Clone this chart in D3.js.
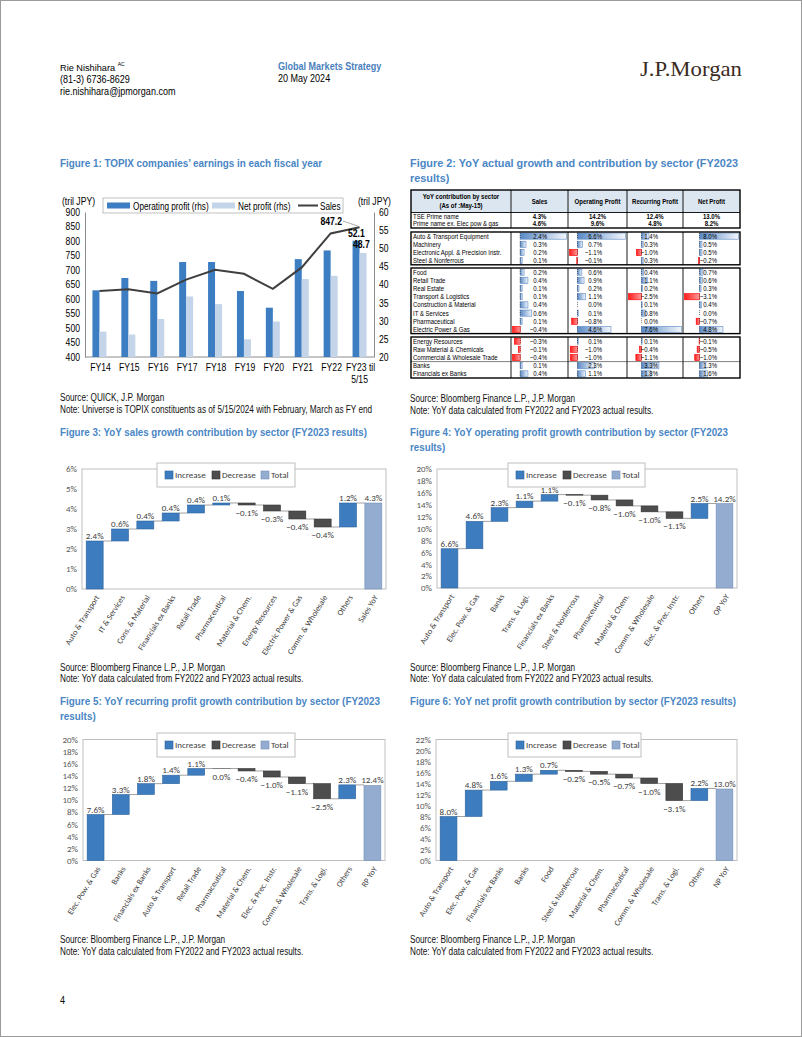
<!DOCTYPE html>
<html><head><meta charset="utf-8">
<script src="https://cdn.jsdelivr.net/npm/d3@7/dist/d3.min.js"></script>
<style>html,body{margin:0;padding:0;background:#fff;}svg{display:block;}</style>
</head><body>
<svg id="page" width="802" height="1037" xmlns="http://www.w3.org/2000/svg"></svg>
<script>
// ===================== DATA =====================
// Figure 1
const fig1Years = ["FY14","FY15","FY16","FY17","FY18","FY19","FY20","FY21","FY22","FY23 til 5/15"];
const fig1OpProfit = [38.4,41.8,41.0,46.2,46.2,38.2,33.6,47.0,49.4,52.1];
const fig1NetProfit = [27.0,26.2,30.5,36.7,34.6,24.9,29.8,41.5,42.4,48.7];
const fig1Sales = [628,634,619,667,701,687,635,709,826,847.2];
const fig1LeftTicks = [400,450,500,550,600,650,700,750,800,850,900];
const fig1RightTicks = [20,25,30,35,40,45,50,55,60];

// Figure 2 (table)
const tblColumns = ["Sales","Operating Profit","Recurring Profit","Net Profit"];
const tblPrimeNames = ["TSE Prime name","Prime name ex. Elec pow & gas"];
const tblPrimeSales = [4.3,4.6];
const tblPrimeOP = [14.2,9.6];
const tblPrimeRP = [12.4,4.8];
const tblPrimeNP = [13.0,8.2];
const tblSectors = ["Auto & Transport Equipment","Machinery","Electronic Appl. & Precision Instr.","Steel & Nonferrous",
  "Food","Retail Trade","Real Estate","Transport & Logistics","Construction & Material","IT & Services","Pharmaceutical","Electric Power & Gas",
  "Energy Resources","Raw Material & Chemicals","Commercial & Wholesale Trade","Banks","Financials ex Banks"];
const tblGroupSizes = [4,8,5];
const tblSales = [2.4,0.3,0.2,0.1, 0.2,0.4,0.1,0.1,0.4,0.6,0.1,-0.4, -0.3,-0.1,-0.4,0.1,0.4];
const tblOP    = [6.6,0.7,-1.1,-0.1, 0.6,0.9,0.2,1.1,0.0,0.1,-0.8,4.6, 0.1,-1.0,-1.0,2.3,1.1];
const tblRP    = [1.4,0.3,-1.0,0.3, 0.4,1.1,0.2,-2.5,0.1,0.8,0.0,7.6, 0.1,-0.4,-1.1,3.3,1.8];
const tblNP    = [8.0,0.5,0.5,-0.2, 0.7,0.6,0.3,-3.1,0.4,0.0,-0.7,4.8, -0.1,-0.5,-1.0,1.3,1.6];

// Figure 3 (sales)
const fig3Cats = ["Auto & Transport","IT & Services","Cons. & Material","Financials ex Banks","Retail Trade","Pharmaceutical","Material & Chem.","Energy Resources","Electric Power & Gas","Comm. & Wholesale","Others","Sales YoY"];
const fig3Vals = [2.4,0.6,0.4,0.4,0.4,0.1,-0.1,-0.3,-0.4,-0.4,1.2,4.3];
// Figure 4 (operating profit)
const fig4Cats = ["Auto & Transport","Elec. Pow. & Gas","Banks","Trans. & Logi.","Financials ex Banks","Steel & Nonferrous","Pharmaceutical","Material & Chem.","Comm. & Wholesale","Elec. & Prec. Instr.","Others","OP YoY"];
const fig4Vals = [6.6,4.6,2.3,1.1,1.1,-0.1,-0.8,-1.0,-1.0,-1.1,2.5,14.2];
// Figure 5 (recurring profit)
const fig5Cats = ["Elec. Pow. & Gas","Banks","Financials ex Banks","Auto & Transport","Retail Trade","Pharmaceutical","Material & Chem.","Elec. & Prec. Instr.","Comm. & Wholesale","Trans. & Logi.","Others","RP YoY"];
const fig5Vals = [7.6,3.3,1.8,1.4,1.1,0.0,-0.4,-1.0,-1.1,-2.5,2.3,12.4];
// Figure 6 (net profit)
const fig6Cats = ["Auto & Transport","Elec. Pow. & Gas","Financials ex Banks","Banks","Food","Steel & Nonferrous","Material & Chem.","Pharmaceutical","Comm. & Wholesale","Trans. & Logi.","Others","NP YoY"];
const fig6Vals = [8.0,4.8,1.6,1.3,0.7,-0.2,-0.5,-0.7,-1.0,-3.1,2.2,13.0];

// ===================== DRAWING =====================
const svg = d3.select("#page");
const NARROW = "'Liberation Sans Narrow','Arial Narrow','Liberation Sans',Arial,sans-serif";
const SANS = "'Liberation Sans',Arial,sans-serif";
const CAL = "Carlito,Calibri,Lato,'Open Sans',sans-serif";
const SERIF = "'Liberation Serif','Times New Roman',serif";
const TITLE_BLUE = "#4a86c5";
const COND = 0.82;   // emulate a narrow face

function condense(t, f) {
  const L = t.node().getComputedTextLength();
  t.attr("textLength", L * f).attr("lengthAdjust", "spacingAndGlyphs");
  return L * f;
}
function txt(parent, x, y, s, o = {}) {
  const ff = o.ff || NARROW;
  const t = parent.append("text").attr("x", x).attr("y", y).text(s)
    .attr("font-family", ff).attr("font-size", o.fs || 10)
    .attr("fill", o.fill || "#000");
  if (o.fw) t.attr("font-weight", o.fw);
  if (o.anchor) t.attr("text-anchor", o.anchor);
  if (o.w) t.attr("textLength", o.w).attr("lengthAdjust", "spacingAndGlyphs");
  else if (o.cond) condense(t, o.cond);
  else if (ff === NARROW && !o.noCond) condense(t, COND);
  return t;
}
function fitLines(lines, target) {
  const r = target / lines[0].node().getComputedTextLength();
  lines.forEach(t => {
    const L = t.node().getComputedTextLength();
    t.attr("textLength", L * r).attr("lengthAdjust", "spacingAndGlyphs");
  });
}
function title(x, y, lines, target) {
  const ts = lines.map((s, i) => txt(svg, x, y + i * 15, s, {fs: 11.5, fw: "bold", fill: TITLE_BLUE, noCond: true}));
  fitLines(ts, target);
}
function srcNote(x, y, lines) {
  lines.forEach((s, i) => txt(svg, x, y + i * 11.5, s, {fs: 10, fill: "#111"}));
}

// page border
svg.append("rect").attr("x", 0.5).attr("y", 0.5).attr("width", 801).attr("height", 1036)
  .attr("fill", "none").attr("stroke", "#9a9a9a");

// ---------- header ----------
const nm = txt(svg, 60, 71, "Rie Nishihara", {ff: SANS, fs: 9.2});
const nmW = nm.node().getComputedTextLength();
txt(svg, 60 + nmW + 2.5, 65.5, "AC", {ff: SANS, fs: 5});
txt(svg, 60, 83, "(81-3) 6736-8629", {fs: 11});
txt(svg, 60, 95, "rie.nishihara@jpmorgan.com", {fs: 11});
txt(svg, 278, 70, "Global Markets Strategy", {fs: 11, fw: "bold", fill: "#4a80bd"});
txt(svg, 278, 82, "20 May 2024", {fs: 11});
txt(svg, 640, 76, "J.P.Morgan", {ff: SERIF, fs: 22, fill: "#3b2b23", w: 102});

// ---------- titles ----------
title(60, 167, ["Figure 1: TOPIX companies\u2019 earnings in each fiscal year"], 262);
title(410, 167, ["Figure 2: YoY actual growth and contribution by sector (FY2023", "results)"], 328);
title(60, 436, ["Figure 3: YoY sales growth contribution by sector (FY2023 results)"], 307);
title(410, 436, ["Figure 4: YoY operating profit growth contribution by sector (FY2023", "results)"], 318);
title(60, 705, ["Figure 5: YoY recurring profit growth contribution by sector (FY2023", "results)"], 320);
title(410, 705, ["Figure 6: YoY net profit growth contribution by sector (FY2023 results)"], 326);

// ---------- sources ----------
srcNote(60, 401, ["Source: QUICK, J.P. Morgan", "Note: Universe is TOPIX constituents as of 5/15/2024 with February, March as FY end"]);
srcNote(410, 402, ["Source: Bloomberg Finance L.P., J.P. Morgan", "Note: YoY data calculated from FY2022 and FY2023 actual results."]);
srcNote(60, 670.5, ["Source: Bloomberg Finance L.P., J.P. Morgan", "Note: YoY data calculated from FY2022 and FY2023 actual results."]);
srcNote(410, 670.5, ["Source: Bloomberg Finance L.P., J.P. Morgan", "Note: YoY data calculated from FY2022 and FY2023 actual results."]);
srcNote(60, 943, ["Source: Bloomberg Finance L.P., J.P. Morgan", "Note: YoY data calculated from FY2022 and FY2023 actual results."]);
srcNote(410, 943, ["Source: Bloomberg Finance L.P., J.P. Morgan", "Note: YoY data calculated from FY2022 and FY2023 actual results."]);
txt(svg, 60, 1004, "4", {fs: 11});

// ---------- Figure 1 ----------
(function () {
  const f = {left: 85, right: 374, top: 212, bottom: 357};
  const g = svg.append("g");
  const x = d3.scaleBand().domain(fig1Years).range([f.left, f.right]);
  const yL = d3.scaleLinear().domain([400, 900]).range([f.bottom, f.top]);
  const yR = d3.scaleLinear().domain([20, 60]).range([f.bottom, f.top]);
  const bw = x.bandwidth();

  // axes
  const axL = g.append("g").attr("transform", `translate(${f.left},0)`)
    .call(d3.axisLeft(yL).tickValues(fig1LeftTicks).tickSize(0).tickPadding(5));
  const axR = g.append("g").attr("transform", `translate(${f.right},0)`)
    .call(d3.axisRight(yR).tickValues(fig1RightTicks).tickSize(0).tickPadding(5));
  [axL, axR].forEach(a => {
    a.select(".domain").attr("stroke", "#8c8c8c");
    a.selectAll("text").attr("font-family", NARROW).attr("font-size", 10.5).attr("fill", "#000")
      .each(function () { condense(d3.select(this), COND); });
  });
  g.append("line").attr("x1", f.left).attr("x2", f.right).attr("y1", f.bottom).attr("y2", f.bottom)
    .attr("stroke", "#8c8c8c");

  // bars
  fig1Years.forEach((yr, i) => {
    const cx = x(yr) + bw / 2;
    g.append("rect").attr("x", cx - 7).attr("width", 7)
      .attr("y", yR(fig1OpProfit[i])).attr("height", f.bottom - yR(fig1OpProfit[i]))
      .attr("fill", "#3d7ec3");
    g.append("rect").attr("x", cx).attr("width", 7)
      .attr("y", yR(fig1NetProfit[i])).attr("height", f.bottom - yR(fig1NetProfit[i]))
      .attr("fill", "#c5d5e9");
    const parts = yr.length > 6 ? [yr.slice(0, yr.lastIndexOf(" ")), yr.slice(yr.lastIndexOf(" ") + 1)] : [yr];
    parts.forEach((p, k) => txt(g, cx + (k ? 0 : 1), 371 + k * 12, p, {fs: 10.5, anchor: "middle"}));
  });
  // sales line
  const line = d3.line().x((d, i) => x(fig1Years[i]) + bw / 2).y(d => yL(d));
  g.append("path").attr("d", line(fig1Sales)).attr("fill", "none")
    .attr("stroke", "#3f3f3f").attr("stroke-width", 2);

  // annotations
  const n = fig1Years.length - 1;
  const lx = x(fig1Years[n]) + bw / 2, ly = yL(fig1Sales[n]);
  g.append("line").attr("x1", 343).attr("y1", 221).attr("x2", lx - 1).attr("y2", ly - 1)
    .attr("stroke", "#8c8c8c").attr("stroke-width", 0.7);
  txt(g, 342, 225, d3.format(".1f")(fig1Sales[n]), {fs: 10.5, fw: "bold", anchor: "end"});
  txt(g, 348, 237, d3.format(".1f")(fig1OpProfit[n]), {fs: 10.5, fw: "bold"});
  txt(g, 353, 247.5, d3.format(".1f")(fig1NetProfit[n]), {fs: 10.5, fw: "bold"});

  // unit labels
  txt(g, 62, 205, "(tril JPY)", {fs: 10.5});
  txt(g, 391, 205, "(tril JPY)", {fs: 10.5, anchor: "end"});

  // legend
  g.append("rect").attr("x", 103).attr("y", 198).attr("width", 240).attr("height", 15)
    .attr("fill", "#fff").attr("stroke", "#a6a6a6").attr("stroke-width", 0.7);
  g.append("rect").attr("x", 107).attr("y", 202.5).attr("width", 23).attr("height", 6).attr("fill", "#3d7ec3");
  txt(g, 133, 209.5, "Operating profit (rhs)", {fs: 10});
  g.append("rect").attr("x", 212).attr("y", 202.5).attr("width", 23).attr("height", 6).attr("fill", "#c5d5e9");
  txt(g, 238, 209.5, "Net profit (rhs)", {fs: 10});
  g.append("line").attr("x1", 298).attr("x2", 318).attr("y1", 205.5).attr("y2", 205.5)
    .attr("stroke", "#3f3f3f").attr("stroke-width", 2);
  txt(g, 320, 209.5, "Sales", {fs: 10});
})();

// ---------- Figure 2 (table) ----------
(function () {
  const g = svg.append("g");
  const cols = [411, 511, 568, 627, 683, 740];
  const rowH = 8.2;
  const TC = 0.86;
  const defs = svg.append("defs");
  const gp = defs.append("linearGradient").attr("id", "gPos");
  gp.append("stop").attr("offset", "0%").attr("stop-color", "#5a8ac6");
  gp.append("stop").attr("offset", "100%").attr("stop-color", "#f4f7fc");
  const gn = defs.append("linearGradient").attr("id", "gNeg");
  gn.append("stop").attr("offset", "0%").attr("stop-color", "#ff1a1a");
  gn.append("stop").attr("offset", "100%").attr("stop-color", "#ff9b9b");

  const box = (y0, y1) => {
    for (let c = 1; c < cols.length - 1; c++)
      g.append("line").attr("x1", cols[c]).attr("x2", cols[c]).attr("y1", y0).attr("y2", y1)
        .attr("stroke", "#000").attr("stroke-width", 0.9);
    g.append("rect").attr("x", cols[0]).attr("y", y0).attr("width", cols[5] - cols[0]).attr("height", y1 - y0)
      .attr("fill", "none").attr("stroke", "#000").attr("stroke-width", 1.4);
  };

  // header
  const hTop = 190, hBot = 212.5;
  g.append("rect").attr("x", cols[0]).attr("y", hTop).attr("width", cols[5] - cols[0]).attr("height", hBot - hTop)
    .attr("fill", "#dce6f1");
  g.append("line").attr("x1", cols[0]).attr("x2", cols[5]).attr("y1", hBot).attr("y2", hBot)
    .attr("stroke", "#000").attr("stroke-width", 0.9);
  txt(g, (cols[0] + cols[1]) / 2, 199, "YoY contribution by sector", {ff: SANS, fs: 7, fw: "bold", anchor: "middle", cond: TC});
  txt(g, (cols[0] + cols[1]) / 2, 208, "(As of :May-15)", {ff: SANS, fs: 7, fw: "bold", anchor: "middle", cond: TC});
  tblColumns.forEach((c, i) => txt(g, (cols[i + 1] + cols[i + 2]) / 2, 203.5, c, {ff: SANS, fs: 7, fw: "bold", anchor: "middle", cond: TC}));

  // prime rows
  const primeVals = [tblPrimeSales, tblPrimeOP, tblPrimeRP, tblPrimeNP];
  tblPrimeNames.forEach((nmx, r) => {
    const y = 213 + r * 7.6;
    txt(g, 413, y + 5.8, nmx, {ff: SANS, fs: 7, cond: TC});
    primeVals.forEach((arr, c) => txt(g, (cols[c + 1] + cols[c + 2]) / 2, y + 5.8, d3.format(".1f")(arr[r]) + "%",
      {ff: SANS, fs: 7, fw: "bold", anchor: "middle", cond: TC}));
  });
  box(hTop, 228);

  // sector rows
  const colVals = [tblSales, tblOP, tblRP, tblNP];
  const textOff = [36, 34, 31, 34];
  const scales = colVals.map((arr, c) => d3.scaleLinear()
    .domain([Math.min(0, d3.min(arr)), d3.max(arr)]).range([cols[c + 1] + 1.5, cols[c + 2] - 1.5]));
  const groupTops = [232, 268, 337];
  let idx = 0;
  tblGroupSizes.forEach((size, gi) => {
    const top = groupTops[gi];
    for (let k = 0; k < size; k++, idx++) {
      const y = top + k * rowH;
      txt(g, 413, y + 6.6, tblSectors[idx], {ff: SANS, fs: 7, cond: TC});
      colVals.forEach((arr, c) => {
        const v = arr[idx], sc = scales[c];
        const x0 = sc(0), x1 = sc(v);
        if (v !== 0) {
          g.append("rect").attr("x", Math.min(x0, x1)).attr("width", Math.abs(x1 - x0))
            .attr("y", y + 1).attr("height", 6.2)
            .attr("fill", v > 0 ? "url(#gPos)" : "url(#gNeg)")
            .attr("stroke", v > 0 ? "#5a8ac6" : "#ff0000").attr("stroke-width", 0.6);
        }
        g.append("line").attr("x1", x0).attr("x2", x0).attr("y1", y + 1).attr("y2", y + 7.2)
          .attr("stroke", "#222").attr("stroke-width", 0.6).attr("stroke-dasharray", "1,1");
        txt(g, cols[c + 1] + textOff[c], y + 6.6, d3.format(".1f")(v) + "%", {ff: SANS, fs: 7, anchor: "end", cond: TC});
      });
      if (tblSectors[idx] === "Banks")
        g.append("line").attr("x1", cols[0]).attr("x2", cols[5]).attr("y1", y).attr("y2", y)
          .attr("stroke", "#000").attr("stroke-width", 0.5);
    }
    box(top, top + size * rowH);
  });
})();

// ---------- Waterfalls ----------
const C_INC = "#3d7dbf", C_DEC = "#4d4d4d", C_TOT = "#93acd0";
function waterfall(cats, vals, cfg) {
  const g = svg.append("g");
  const y = d3.scaleLinear().domain([0, cfg.yMax]).range([cfg.bottom, cfg.top]);
  const x = d3.scaleBand().domain(cats).range([cfg.left, cfg.right]).paddingInner(0.33).paddingOuter(0.165);
  const bw = x.bandwidth();
  let run = 0;
  const items = vals.map((v, i) => {
    const total = i === vals.length - 1;
    let s, e;
    if (total) { s = 0; e = v; } else { s = run; e = run + v; run = e; }
    return {cat: cats[i], v, s, e, type: total ? "tot" : (v > 0 ? "inc" : "dec")};
  });
  g.append("rect").attr("x", cfg.left).attr("y", cfg.top).attr("width", cfg.right - cfg.left)
    .attr("height", cfg.bottom - cfg.top).attr("fill", "none").attr("stroke", "#bfbfbf");
  const ax = g.append("g").attr("transform", `translate(${cfg.left},0)`)
    .call(d3.axisLeft(y).tickValues(d3.range(0, cfg.yMax + 0.001, cfg.step))
      .tickFormat(d => d + "%").tickSize(0).tickPadding(5));
  ax.select(".domain").remove();
  ax.selectAll("text").attr("font-family", CAL).attr("font-size", 9).attr("fill", "#595959");

  // connectors
  items.forEach((d, i) => {
    if (i === items.length - 1) return;
    g.append("line").attr("x1", x(d.cat) + bw).attr("x2", x(items[i + 1].cat))
      .attr("y1", y(d.e)).attr("y2", y(d.e)).attr("stroke", "#8c8c8c").attr("stroke-width", 0.8);
  });
  // bars
  items.forEach(d => {
    const y0 = y(Math.max(d.s, d.e)), y1 = y(Math.min(d.s, d.e));
    const fill = d.type === "inc" ? C_INC : d.type === "dec" ? C_DEC : C_TOT;
    const stroke = d.type === "inc" ? "#2d639c" : d.type === "dec" ? "#333" : "#7390b8";
    g.append("rect").attr("x", x(d.cat)).attr("width", bw).attr("y", y0).attr("height", Math.max(0.01, y1 - y0))
      .attr("fill", fill).attr("stroke", stroke).attr("stroke-width", 0.6);
    const lbl = d3.format(".1f")(d.v) + "%";
    const ly = d.type === "dec" ? y1 + 11 : y0 - 2;
    txt(g, x(d.cat) + bw / 2, ly, lbl, {ff: CAL, fs: 9, fill: "#404040", anchor: "middle"});
    g.append("text").attr("transform", `translate(${x(d.cat) + bw / 2 + 3},${cfg.bottom + 7}) rotate(-58)`)
      .attr("text-anchor", "end").attr("dy", "0.3em").attr("font-family", CAL).attr("font-size", 8.2)
      .attr("fill", "#404040").text(d.cat);
  });
  // legend
  const L = cfg.legend;
  g.append("rect").attr("x", L.x).attr("y", L.y).attr("width", L.w).attr("height", 24)
    .attr("fill", "#fff").attr("stroke", "#bfbfbf");
  const cy = L.y + 12;
  [["Increase", C_INC, "#2d639c", 8, 18], ["Decrease", C_DEC, "#333", 55, 65], ["Total", C_TOT, "#7390b8", 104, 114]]
    .forEach(([t, f, s, sx, tx]) => {
      g.append("rect").attr("x", L.x + sx).attr("y", cy - 4).attr("width", 8).attr("height", 8)
        .attr("fill", f).attr("stroke", s).attr("stroke-width", 0.6);
      txt(g, L.x + tx, cy + 3.3, t, {ff: CAL, fs: 9, fill: "#404040"});
    });
}
waterfall(fig3Cats, fig3Vals, {left: 82, right: 386, top: 469, bottom: 589, yMax: 6, step: 1, legend: {x: 157, y: 463, w: 138}});
waterfall(fig4Cats, fig4Vals, {left: 437, right: 737, top: 469, bottom: 588, yMax: 20, step: 2, legend: {x: 508, y: 463, w: 137}});
waterfall(fig5Cats, fig5Vals, {left: 83, right: 385, top: 739.5, bottom: 860.5, yMax: 20, step: 2, legend: {x: 157, y: 733, w: 138}});
waterfall(fig6Cats, fig6Vals, {left: 436, right: 737, top: 739.5, bottom: 860.5, yMax: 22, step: 2, legend: {x: 508, y: 733, w: 133}});
</script>
</body></html>
